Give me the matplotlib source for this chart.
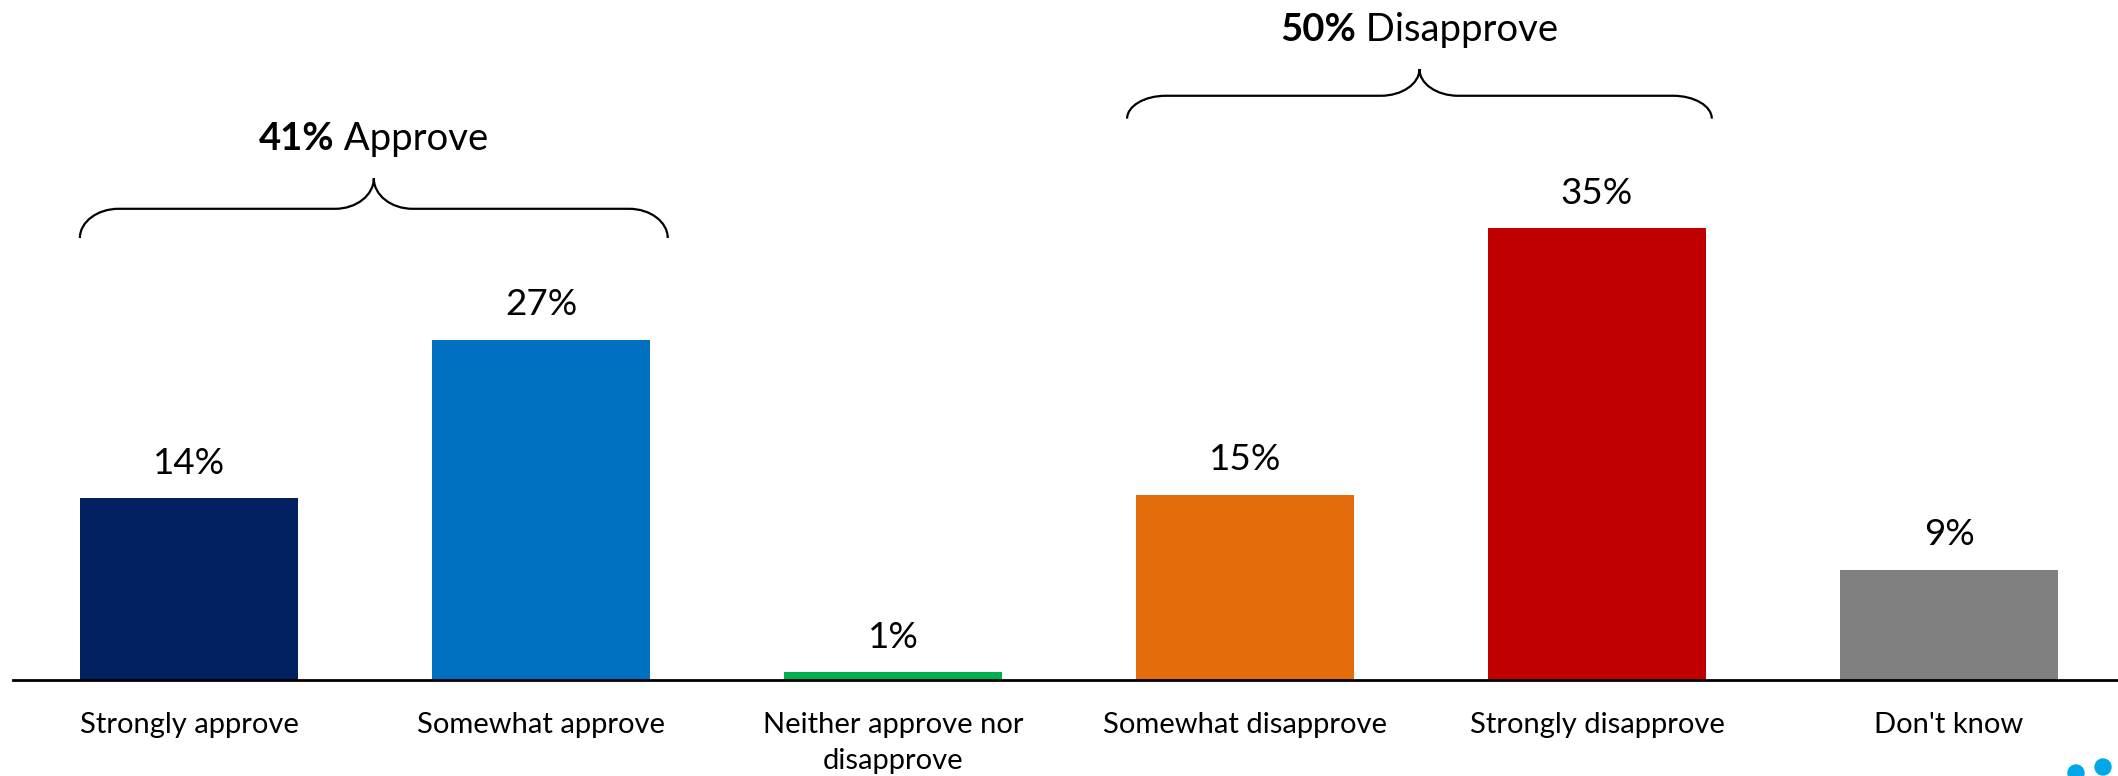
import matplotlib
matplotlib.use("Agg")
import matplotlib.pyplot as plt
from matplotlib.path import Path
from matplotlib.patches import PathPatch, Ellipse
from matplotlib.transforms import ScaledTranslation

plt.rcParams['font.family'] = ['Lato', 'DejaVu Sans']

# donnees (alturas, rotulos arredondados como no original)
categorias = ["Strongly approve", "Somewhat approve", "Neither approve nor\ndisapprove",
              "Somewhat disapprove", "Strongly disapprove", "Don't know"]
valores = [14.3, 26.8, 0.6, 14.6, 35.6, 8.7]
rotulos = ["14%", "27%", "1%", "15%", "35%", "9%"]
cores = ["#002060", "#0070C0", "#00B050", "#E46C0A", "#C00000", "#808080"]

# grupos com chave: (primeira barra, ultima barra, texto negrito, resto)
grupos = [(0, 1, "41%", " Approve"),
          (3, 4, "50%", " Disapprove")]

fig = plt.figure(figsize=(21.18, 7.76), dpi=100)
ax = fig.add_axes([13 / 2118, 96 / 776, 1 - 13 / 2118, 680 / 776])

x = range(len(categorias))
barras = ax.bar(x, valores, width=0.62, color=cores, zorder=2)

for b, v, r in zip(barras, valores, rotulos):
    ax.annotate(r, (b.get_x() + b.get_width() / 2, v), xytext=(0, 25),
                textcoords="offset points", ha="center", va="center", fontsize=26.5)

ax.set_xlim(-0.5, 5.48)
ax.set_ylim(0, 53.54)
ax.set_xticks(list(x))
ax.set_xticklabels(categorias, fontsize=21, linespacing=1.5)
ax.tick_params(axis="x", length=0, pad=23)
ax.set_yticks([])
for s in ["top", "left", "right"]:
    ax.spines[s].set_visible(False)
ax.spines["bottom"].set_linewidth(2)


def chave(x0, x1, y0, alt, ponta, rx=0.11):
    # desenha uma chave horizontal { virada para cima
    y1 = y0 + alt
    y2 = y1 + ponta
    xc = (x0 + x1) / 2
    k = 0.552
    verts = [(x0, y0), (x0, y0 + k * alt), (x0 + rx * (1 - k), y1), (x0 + rx, y1),
             (xc - rx, y1),
             (xc - rx + k * rx, y1), (xc, y2 - k * ponta), (xc, y2),
             (xc, y2 - k * ponta), (xc + rx - k * rx, y1), (xc + rx, y1),
             (x1 - rx, y1),
             (x1 - rx * (1 - k), y1), (x1, y0 + k * alt), (x1, y0)]
    codes = [Path.MOVETO, Path.CURVE4, Path.CURVE4, Path.CURVE4,
             Path.LINETO,
             Path.CURVE4, Path.CURVE4, Path.CURVE4,
             Path.CURVE4, Path.CURVE4, Path.CURVE4,
             Path.LINETO,
             Path.CURVE4, Path.CURVE4, Path.CURVE4]
    ax.add_patch(PathPatch(Path(verts, codes), fill=False, lw=1.6, color="black",
                           clip_on=False))
    return xc, y2


# posicao/tamanho das chaves (unidades do eixo y)
chaves_y = [34.8, 44.2]
chaves_alt = [2.3, 1.8]
chaves_ponta = [2.4, 2.1]
folgas = [(0.0, 0.05), (-0.025, 0.016)]

textos = []
for (i0, i1, negrito, resto), y0, a, p, (f0, f1) in zip(grupos, chaves_y, chaves_alt,
                                                       chaves_ponta, folgas):
    x0 = barras[i0].get_x() + f0
    x1 = barras[i1].get_x() + barras[i1].get_width() + f1
    xc, topo = chave(x0, x1, y0, a, p)
    t1 = ax.text(xc, topo + 3.1, negrito, fontweight="bold", fontsize=27.5,
                 ha="left", va="center")
    t2 = ax.annotate(resto, xy=(1, 0.5), xycoords=t1, ha="left", va="center",
                     fontsize=27.5)
    textos.append((t1, t2))

# centraliza os titulos das chaves
fig.canvas.draw()
r = fig.canvas.get_renderer()
for t1, t2 in textos:
    w = t2.get_window_extent(r).x1 - t1.get_window_extent(r).x0
    t1.set_transform(ax.transData + ScaledTranslation(-w / 2 / fig.dpi, 0, fig.dpi_scale_trans))

# pedaco do logo no canto
for cx, cy in [(2076, 3), (2103, 9)]:
    fig.patches.append(Ellipse((cx / 2118, cy / 776), 16 / 2118, 16 / 776,
                               transform=fig.transFigure, color="#00A8E8"))

fig.savefig("out.png", dpi=100)
